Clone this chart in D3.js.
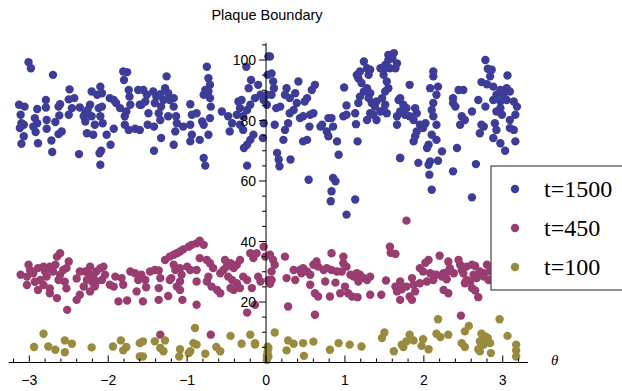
<!DOCTYPE html>
<html><head><meta charset="utf-8">
<script src="https://cdn.jsdelivr.net/npm/d3@7"></script>
<style>html,body{margin:0;padding:0;background:#fff;}svg{display:block;}</style>
</head><body>
<svg id="chart" width="622" height="391"></svg>
<script>
const title = "Plaque Boundary";
const seriesNames = ["t=1500", "t=450", "t=100"];
const colors = ["#3d3d99", "#993d71", "#998b3d"];
const xTicks = [-3, -2, -1, 0, 1, 2, 3];
const yTicks = [20, 40, 60, 80, 100];

const s1500 = [
[-3.01,99.3],[-2.98,97.3],[-2.70,95.1],[-1.81,96.2],[-1.76,96.0],[-1.80,93.4],[-2.49,90.3],[-2.21,89.6],[-2.10,91.2],[-2.08,89.0],[-2.14,88.5],[-1.74,90.1],[-1.73,87.9],[-3.13,85.2],[-3.06,84.6],[-2.90,83.8],[-2.79,86.8],[-2.79,84.3],[-2.61,85.4],[-2.63,84.6],[-2.50,87.0],[-2.43,87.4],[-2.46,84.1],[-2.36,84.3],[-2.23,85.2],[-2.26,83.5],[-2.29,82.4],[-2.12,84.1],[-2.08,84.6],[-1.98,87.4],[-1.93,86.8],[-1.90,85.8],[-1.85,84.1],[-1.77,83.0],[-1.62,90.1],[-1.60,85.2],[-3.11,81.9],[-3.10,79.1],[-3.12,77.5],[-3.07,78.6],[-2.93,80.8],[-2.90,79.1],[-2.95,78.0],[-2.92,76.2],[-2.78,80.2],[-2.78,77.3],[-2.67,79.5],[-2.62,81.7],[-2.50,81.9],[-2.31,81.4],[-2.29,79.7],[-2.21,81.4],[-2.17,78.6],[-2.10,81.4],[-2.07,79.1],[-2.27,75.8],[-2.19,75.3],[-2.02,75.3],[-1.93,77.3],[-1.79,81.4],[-1.79,78.6],[-1.74,76.9],[-1.66,77.3],[-1.60,76.9],[-3.07,74.8],[-3.10,72.3],[-2.89,72.5],[-2.72,73.4],[-2.59,76.4],[-2.63,75.5],[-2.71,69.6],[-2.37,68.9],[-2.11,69.2],[-2.09,70.0],[-1.97,72.0],[-2.10,65.4],[-1.72,85.2],
[-1.555,90.1],[-1.51,88.5],[-1.53,86.3],[-1.58,85.2],[-1.43,89.6],[-1.39,87.9],[-1.41,85.8],[-1.34,88.7],[-1.28,90.7],[-1.26,94.6],[-1.24,89.0],[-1.30,86.8],[-1.33,84.6],[-1.36,82.4],[-1.34,80.2],[-1.49,82.4],[-1.50,78.6],[-1.42,78.0],[-1.22,86.8],[-1.17,87.4],[-1.17,84.6],[-1.24,81.4],[-1.14,81.4],[-1.13,79.1],[-1.15,76.4],[-1.05,78.0],[-0.96,85.4],[-0.94,81.9],[-0.88,82.4],[-0.96,78.6],[-0.94,75.3],[-0.96,73.1],[-0.84,73.6],[-0.81,79.7],[-0.79,78.6],[-0.75,97.8],[-0.73,94.0],[-0.71,91.8],[-0.77,90.1],[-0.79,88.5],[-0.73,89.6],[-0.71,87.4],[-0.70,84.6],[-0.71,80.8],[-0.73,75.3],[-0.79,67.6],[-0.77,65.1],[-0.56,83.0],[-0.48,81.4],[-0.43,79.1],[-0.46,76.4],[-1.33,74.2],[-1.42,70.0],[-1.17,72.0],[-0.35,86.3],[-0.31,86.8],[-0.33,84.1],[-0.37,81.9],[-0.29,81.4],[-0.24,83.5],[-0.20,85.2],[-0.22,90.7],[-0.19,93.4],[-0.25,97.8],[-0.10,91.8],[-0.07,88.5],[-0.14,87.4],[-0.03,86.8],[0.01,88.5],[-0.03,79.1],[-0.16,75.3],[-0.20,73.6],[-0.24,72.0],[-0.28,70.9],[-0.24,65.1],[0.02,95.1],[0.03,101.2],[-0.04,74.2],[0.01,85.2],[-0.33,78.6],[-0.29,76.9],
[0.05,101.2],[0.07,95.6],[0.09,92.9],[0.10,90.7],[0.07,88.5],[0.13,84.1],[0.18,84.6],[0.11,78.6],[0.24,76.9],[0.22,73.6],[0.14,69.3],[0.16,67.1],[0.17,64.9],[0.31,67.1],[0.26,90.7],[0.24,88.5],[0.30,87.4],[0.37,89.0],[0.41,92.9],[0.39,85.8],[0.35,83.5],[0.30,82.4],[0.28,79.1],[0.43,80.8],[0.47,81.4],[0.56,81.9],[0.60,82.4],[0.58,90.1],[0.62,91.8],[0.52,87.4],[0.49,86.3],[0.55,78.0],[0.52,73.6],[0.47,73.1],[0.69,78.0],[0.71,78.6],[0.79,80.8],[0.83,80.8],[0.85,78.0],[0.77,76.4],[0.79,74.8],[0.90,73.1],[0.92,68.7],[0.99,90.9],[1.02,85.0],[0.98,81.4],[1.02,81.9],[1.13,82.4],[1.17,85.8],[1.14,78.8],[1.16,73.1],[1.13,53.9],[1.02,48.9],[0.83,56.6],[0.82,53.3],[0.85,61.0],[0.88,59.9],[0.54,60.4],[1.19,87.9],[1.24,89.6],[1.28,90.7],[1.32,89.0],[1.30,87.4],[1.24,99.5],[1.28,97.3],[1.19,96.2],[1.15,95.1],[1.17,94.0],[1.21,92.4],[1.32,96.8],[1.30,95.1],[1.34,85.8],[1.38,84.6],[1.40,86.3],[1.32,82.4],[1.36,81.9],[1.28,80.2],[1.40,80.2],[1.45,83.0],[1.49,83.5],[1.53,82.4],[1.51,85.2],[1.47,87.4],[1.51,89.6],[1.55,90.7],[1.53,92.9],[1.49,95.1],[1.45,97.3],[1.51,98.4],[1.55,100.0],[1.60,100.6],[1.62,102.3],[1.57,97.3],[1.64,97.3],[1.66,98.9],[1.68,86.8],[1.66,81.4],[1.66,78.6],[1.70,67.6],[1.55,101.7],[1.49,96.8],
[2.78,100.0],[2.81,97.1],[2.86,96.8],[2.84,94.6],[3.06,94.9],[2.73,92.7],[2.80,92.0],[2.88,91.2],[2.97,90.1],[3.05,90.7],[3.09,89.6],[3.01,88.5],[2.92,88.5],[2.88,86.8],[2.97,86.3],[3.05,86.8],[3.14,86.3],[3.18,84.6],[3.16,81.9],[3.09,80.2],[3.14,76.9],[3.09,77.5],[2.97,84.1],[2.92,83.0],[2.99,81.9],[2.90,79.1],[2.92,76.9],[2.97,72.5],[3.03,70.0],[2.88,74.2],[3.16,73.1],[2.78,84.6],[2.69,86.8],[2.73,78.6],[2.76,78.0],[2.71,75.8],[2.61,83.0],[2.52,80.2],[2.46,78.6],[2.48,81.4],[2.50,90.1],[2.44,90.1],[2.37,87.4],[2.37,85.8],[2.40,84.6],[2.12,96.2],[2.12,94.6],[2.08,90.7],[2.18,91.2],[2.16,88.5],[2.12,85.8],[2.10,83.5],[2.12,81.4],[2.16,78.6],[2.10,75.3],[2.06,72.0],[2.04,70.9],[2.16,73.6],[2.23,69.8],[2.18,66.7],[2.08,66.5],[2.06,65.4],[2.07,62.1],[1.93,66.0],[1.82,91.8],[1.70,87.4],[1.74,85.2],[1.78,84.1],[1.70,83.0],[1.76,81.9],[1.82,81.4],[1.89,84.1],[1.91,82.4],[1.87,80.2],[1.95,78.6],[1.99,77.5],[2.02,79.1],[1.91,76.4],[1.89,74.8],[1.87,73.1],[1.70,67.6],[2.42,70.9],[2.37,63.2],[2.66,65.6],[2.10,57.1],[2.61,54.6]
];

const s450 = [
[-2.61,36.1],[-2.65,35.0],[-2.67,32.3],[-3.01,32.3],[-2.99,30.6],[-3.11,29.0],[-3.03,28.4],[-2.95,29.5],[-2.89,31.2],[-2.82,31.7],[-2.80,30.1],[-2.74,31.7],[-2.70,30.1],[-2.78,28.4],[-2.86,27.3],[-2.93,26.7],[-3.03,25.6],[-2.89,24.0],[-2.82,25.6],[-2.74,24.5],[-2.63,27.3],[-2.61,29.0],[-2.57,30.6],[-2.50,33.4],[-2.53,31.2],[-2.55,26.7],[-2.53,24.5],[-2.65,21.3],[-2.74,22.9],[-2.52,17.4],[-2.40,27.8],[-2.36,30.1],[-2.29,30.1],[-2.23,31.7],[-2.25,29.5],[-2.27,27.3],[-2.31,25.1],[-2.23,23.5],[-2.36,22.4],[-2.40,20.7],[-2.19,28.4],[-2.15,30.1],[-2.10,31.2],[-2.06,31.7],[-2.04,29.0],[-2.08,27.3],[-2.15,26.8],[-1.98,25.7],[-1.93,25.1],[-1.91,28.4],[-1.83,27.9],[-1.81,25.7],[-1.72,30.1],[-1.66,29.5],[-1.62,27.3],[-1.64,23.5],[-1.87,20.2],[-1.76,20.5],[-2.19,26.2],[-2.17,25.1],
[-1.58,29.0],[-1.53,27.3],[-1.52,24.9],[-1.56,20.2],[-1.47,30.1],[-1.41,30.6],[-1.36,30.4],[-1.34,27.9],[-1.36,24.6],[-1.28,33.9],[-1.22,35.0],[-1.17,35.6],[-1.13,36.1],[-1.09,36.7],[-1.05,37.4],[-0.98,38.3],[-0.94,38.9],[-0.88,39.4],[-0.84,40.3],[-0.79,38.9],[-0.84,34.5],[-1.17,32.3],[-1.15,30.6],[-1.09,31.2],[-1.00,31.7],[-0.96,30.6],[-1.07,29.0],[-1.20,27.9],[-1.22,27.3],[-1.09,26.8],[-1.13,25.1],[-1.09,24.0],[-1.24,22.0],[-1.36,20.7],[-1.06,20.7],[-0.88,19.1],[-0.88,30.6],[-0.88,26.8],[-0.75,33.9],[-0.71,32.8],[-0.67,31.2],[-0.73,28.4],[-0.75,26.8],[-0.69,25.1],[-0.62,24.0],[-0.58,22.9],[-0.58,29.5],[-0.54,30.6],[-0.50,31.7],[-0.52,33.9],[-0.45,32.8],[-0.41,31.2],[-0.37,32.3],[-0.33,33.9],[-0.48,28.4],[-0.43,27.3],[-0.37,26.2],[-0.33,24.6],[-0.45,24.6],[-0.41,24.0],[-0.29,28.4],[-0.24,27.3],[-0.18,24.6],[-0.20,36.1],[-0.16,34.5],[-0.10,28.4],[-0.07,26.8],[-0.12,36.1],[-0.03,38.3],[-0.01,35.0],[0.03,27.3],[-0.24,16.5],[-0.14,19.1],[-1.34,9.2],[-0.70,9.2],
[0.05,35.6],[0.09,33.9],[0.11,32.3],[0.07,30.1],[0.07,27.3],[0.24,35.0],[0.35,30.6],[0.26,27.9],[0.37,27.3],[0.43,30.6],[0.45,29.5],[0.47,31.2],[0.52,30.1],[0.56,29.0],[0.60,32.3],[0.64,33.4],[0.66,31.7],[0.73,30.6],[0.77,31.2],[0.83,30.6],[0.90,30.1],[0.96,30.1],[0.98,32.8],[0.98,35.0],[1.02,31.7],[0.83,36.1],[1.07,29.0],[1.11,28.4],[1.15,29.5],[1.17,26.8],[1.19,29.0],[1.24,27.9],[1.28,27.3],[1.32,28.4],[1.00,25.1],[1.04,22.9],[1.09,21.8],[1.16,21.6],[0.94,22.9],[0.81,21.8],[0.66,21.8],[0.62,22.9],[0.56,25.7],[0.75,26.8],[0.88,26.4],[1.32,22.4],[1.46,22.4],[1.52,27.1],[1.57,38.3],[1.58,36.3],[1.64,35.9],[1.64,25.1],[1.66,23.5],[0.28,18.5],[0.62,15.8],[0.05,26.0],
[1.78,46.9],[2.20,35.3],[2.06,33.9],[2.02,33.0],[1.95,31.2],[1.99,30.1],[2.08,29.5],[2.12,29.0],[2.16,29.0],[2.23,28.4],[2.25,29.5],[2.31,33.4],[2.33,31.2],[2.31,30.1],[2.38,29.5],[2.44,33.9],[2.46,32.3],[2.48,30.6],[2.50,29.5],[2.54,31.7],[2.61,32.3],[2.65,31.9],[2.71,30.1],[2.76,29.5],[2.80,32.3],[2.84,30.1],[2.82,27.3],[2.76,28.4],[2.67,27.9],[2.63,29.0],[2.59,26.8],[2.54,27.3],[2.52,26.2],[2.61,24.6],[2.65,23.8],[2.69,21.6],[2.29,27.5],[2.12,27.3],[2.04,26.8],[1.95,26.2],[1.87,25.7],[1.85,27.9],[1.78,25.1],[1.72,24.2],[1.89,23.5],[1.82,21.8],[1.85,20.7],[1.70,20.7],[2.25,24.0],[2.31,22.9],[1.70,26.8],[2.47,15.5]
];

const s100 = [
[-2.82,9.5],[-2.94,5.1],[-2.76,5.3],[-2.67,4.2],[-2.55,7.3],[-2.46,6.2],[-2.55,3.4],[-2.21,5.0],[-1.94,5.3],[-1.84,7.3],[-1.77,5.1],[-1.81,4.0],[-1.60,6.4],[-1.60,2.0],
[-1.41,7.0],[-1.28,7.3],[-1.34,4.8],[-1.30,3.7],[-1.56,7.0],[-1.56,2.0],[-1.09,4.4],[-1.10,2.0],[-0.90,11.4],[-0.92,6.4],[-0.88,5.9],[-0.96,3.7],[-0.98,3.1],[-0.77,2.9],[-0.63,5.1],[-0.58,3.7],[-0.45,8.8],[-0.31,6.2],[-0.20,9.2],[-0.14,6.4],[-0.14,5.9],[0.03,4.8],[0.03,2.0],[0.01,0.8],[0.01,2.2],[0.02,3.5],[0.02,5.2],
[0.11,9.9],[0.28,7.3],[0.35,6.2],[0.26,4.0],[0.47,6.4],[0.48,2.2],[0.60,6.9],[0.81,4.2],[0.92,6.4],[1.06,5.9],[1.21,5.3],[1.50,9.9],[1.47,8.1],[1.62,3.7],
[2.18,14.3],[2.96,14.3],[2.57,12.1],[2.52,10.3],[2.16,9.5],[2.21,8.4],[2.31,9.2],[1.82,9.2],[1.78,7.0],[1.87,7.3],[1.72,5.9],[1.74,5.1],[1.99,7.7],[1.97,5.5],[2.06,4.4],[2.48,6.4],[2.52,5.1],[2.73,9.5],[2.78,8.6],[2.81,8.1],[2.71,7.0],[2.76,5.9],[2.84,6.4],[2.69,4.4],[2.71,3.7],[2.85,3.1],[3.06,8.8],[3.17,5.9],[3.17,4.0],[3.17,2.0]
];

const allSeries = [s1500, s450, s100];

const svg = d3.select("#chart");
const x = d3.scaleLinear().domain([-3.26, 3.32]).range([8.8, 528]);
const y = d3.scaleLinear().domain([0, 105.6]).range([362.5, 43.1]);

// points
const g = svg.append("g");
allSeries.forEach((s, i) => {
  g.selectAll(null).data(s).enter().append("circle")
    .attr("cx", d => x(d[0])).attr("cy", d => y(d[1]))
    .attr("r", 4.2).attr("fill", colors[i]);
});

// x axis (ticks point up)
const xMinor = d3.range(-3.2, 3.21, 0.2).map(v => Math.round(v * 10) / 10);
const ax = svg.append("g").attr("stroke", "#000").attr("stroke-width", 1);
ax.append("line").attr("x1", x(-3.26)).attr("x2", x(3.32)).attr("y1", y(0)).attr("y2", y(0));
ax.selectAll(null).data(xMinor).enter().append("line")
  .attr("x1", d => x(d)).attr("x2", d => x(d))
  .attr("y1", y(0)).attr("y2", d => y(0) - (Math.abs(d - Math.round(d)) < 1e-6 ? 7 : 4));
// y axis (ticks point left)
ax.append("line").attr("x1", x(0)).attr("x2", x(0)).attr("y1", y(0)).attr("y2", y(105.6));
const yMinor = d3.range(5, 106, 5);
ax.selectAll(null).data(yMinor).enter().append("line")
  .attr("y1", d => y(d)).attr("y2", d => y(d))
  .attr("x1", x(0)).attr("x2", d => x(0) - (d % 20 === 0 ? 7 : 4));

const tickFont = "Liberation Sans, Arial, sans-serif";
svg.selectAll(null).data(xTicks).enter().append("text")
  .attr("x", d => x(d)).attr("y", 385).attr("text-anchor", "middle")
  .attr("font-family", tickFont).attr("font-size", 14)
  .text(d => d < 0 ? "\u2212" + Math.abs(d) : String(d));
svg.selectAll(null).data(yTicks).enter().append("text")
  .attr("x", x(0) - 10).attr("y", d => y(d) + 5).attr("text-anchor", "end")
  .attr("font-family", tickFont).attr("font-size", 14)
  .text(d => d);

svg.append("text").attr("x", 551).attr("y", 365)
  .attr("font-family", "Liberation Serif, Times New Roman, serif").attr("font-style", "italic")
  .attr("font-size", 15).text("\u03b8");

svg.append("text").attr("x", 267).attr("y", 20).attr("text-anchor", "middle")
  .attr("font-family", tickFont).attr("font-size", 14.5).text(title);

// legend
const lg = svg.append("g");
lg.append("rect").attr("x", 491).attr("y", 166).attr("width", 140).attr("height", 124)
  .attr("fill", "#fff").attr("stroke", "#444").attr("stroke-width", 1.2);
seriesNames.forEach((n, i) => {
  const cy = 189 + i * 39;
  lg.append("circle").attr("cx", 515).attr("cy", cy).attr("r", 4.2).attr("fill", colors[i]);
  lg.append("text").attr("x", 544).attr("y", cy + 8)
    .attr("font-family", "Liberation Serif, Times New Roman, serif").attr("font-size", 24)
    .text(n);
});
</script>
</body></html>
